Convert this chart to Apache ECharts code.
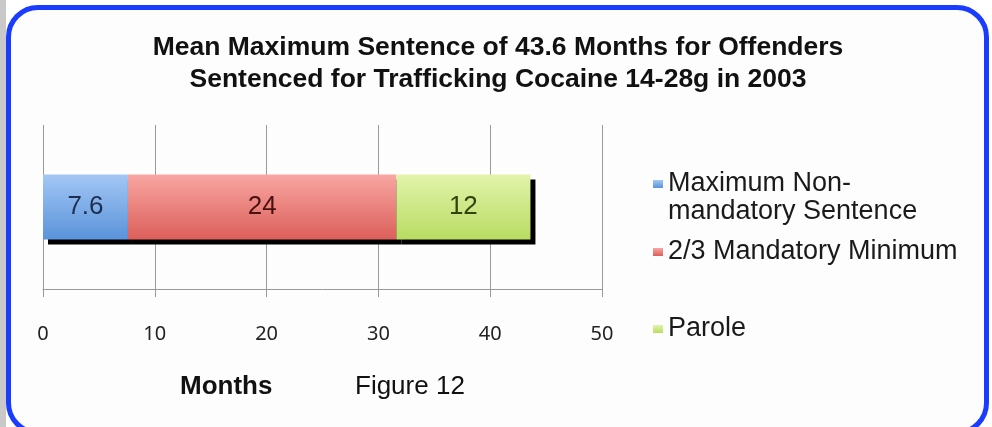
<!DOCTYPE html>
<html>
<head>
<meta charset="utf-8">
<script src="https://cdn.jsdelivr.net/npm/echarts@6/dist/echarts.min.js"></script>
<style>
html,body{margin:0;padding:0;background:#fff;}
#wrap{position:relative;width:992px;height:427px;overflow:hidden;background:#fff;}
#strip{position:absolute;left:0;top:0;width:6px;height:427px;background:#c9c9c9;}
#box{position:absolute;left:6px;top:5px;width:973px;height:420px;border:5px solid #1a3cff;border-radius:32px;background:#fdfdfd;}
#chart{position:absolute;left:0;top:0;width:992px;height:427px;}
</style>
</head>
<body>
<div id="wrap">
<div id="strip"></div>
<div id="box"></div>
<div id="chart"></div>
</div>
<script>
const categories = [''];
const seriesNames = ['Maximum Non-mandatory Sentence', '2/3 Mandatory Minimum', 'Parole'];
const maxNonMandatory = [7.6];
const mandatoryMinimum = [24];
const parole = [12];
const xTicks = [0, 10, 20, 30, 40, 50];
const titleText = 'Mean Maximum Sentence of 43.6 Months for Offenders\nSentenced for Trafficking Cocaine 14-28g in 2003';

const fills = [
  ['#a3c7f5', '#5a93da'],
  ['#f8a6a2', '#dc5f5a'],
  ['#e2f3ab', '#b8dc62']
];
const labelColors = ['#1c2f50', '#4a100d', '#33420f'];
const values = [maxNonMandatory, mandatoryMinimum, parole];

const chart = echarts.init(document.getElementById('chart'), null, {renderer: 'canvas'});

const series = seriesNames.map((name, i) => ({
  name: name,
  type: 'bar',
  stack: 'total',
  barWidth: 65,
  data: values[i],
  itemStyle: {
    color: new echarts.graphic.LinearGradient(0, 0, 0, 1, [
      {offset: 0, color: fills[i][0]},
      {offset: 1, color: fills[i][1]}
    ]),
    shadowColor: '#000',
    shadowBlur: 0,
    shadowOffsetX: 5,
    shadowOffsetY: 5
  },
  label: {
    show: true,
    position: 'inside',
    fontFamily: 'Liberation Sans',
    fontSize: 26,
    color: labelColors[i]
  }
}));

const legendBase = {
  orient: 'vertical',
  left: 653,
  padding: 0,
  itemWidth: 10,
  itemHeight: 8,
  itemGap: 0,
  icon: 'rect',
  textStyle: {fontFamily: 'Liberation Sans', fontSize: 27, color: '#1a1a1a', lineHeight: 28}
};

const option = {
  backgroundColor: 'transparent',
  animation: false,
  title: {
    text: titleText,
    left: 498,
    textAlign: 'center',
    top: 31,
    padding: 0,
    textStyle: {fontFamily: 'Liberation Sans', fontWeight: 'bold', fontSize: 26.5, color: '#111', lineHeight: 32.5}
  },
  legend: [
    Object.assign({}, legendBase, {top: 142, data: [seriesNames[0]],
      formatter: () => '\nMaximum Non-\nmandatory Sentence'}),
    Object.assign({}, legendBase, {top: 238, data: [seriesNames[1]]}),
    Object.assign({}, legendBase, {top: 315, data: [seriesNames[2]]})
  ],
  grid: {left: 43, right: 390, top: 125, bottom: 138, containLabel: false},
  xAxis: {
    type: 'value',
    min: xTicks[0],
    max: xTicks[xTicks.length - 1],
    interval: 10,
    axisLine: {show: true, lineStyle: {color: '#999', width: 1}},
    axisTick: {show: true, length: 8, lineStyle: {color: '#999'}},
    splitLine: {show: true, lineStyle: {color: '#999', width: 1}},
    axisLabel: {margin: 35, fontFamily: 'Noto Sans', fontSize: 20, color: '#222'}
  },
  yAxis: {
    type: 'category',
    data: categories,
    axisLine: {show: false},
    axisTick: {show: false},
    axisLabel: {show: false}
  },
  series: series,
  graphic: [
    {type: 'text', left: 180, top: 374, style: {text: 'Months', fontFamily: 'Liberation Sans', fontWeight: 'bold', fontSize: 26, fill: '#111'}},
    {type: 'text', left: 355, top: 374, style: {text: 'Figure 12', fontFamily: 'Liberation Sans', fontSize: 26, fill: '#111'}}
  ]
};
chart.setOption(option);
</script>
</body>
</html>
